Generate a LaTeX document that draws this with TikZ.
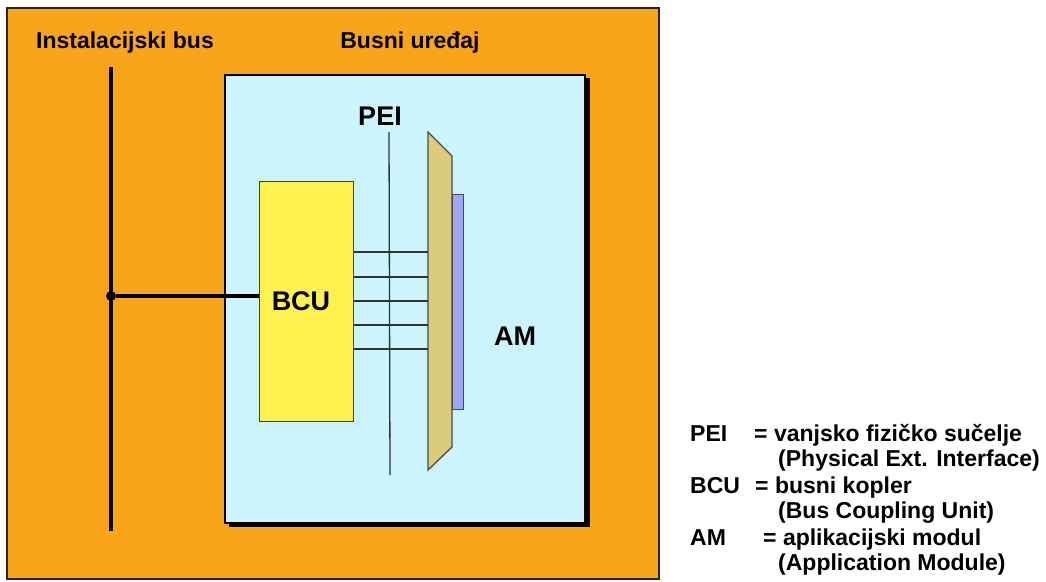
\documentclass[tikz,border=0pt]{standalone}
\usepackage{fontspec}
\setmainfont{Liberation Sans}
\usepackage{xcolor}
\usetikzlibrary{positioning}

\definecolor{busorange}{RGB}{249,165,27}
\definecolor{devblue}{RGB}{204,244,252}
\definecolor{bcuyellow}{RGB}{255,242,80}
\definecolor{peitan}{RGB}{218,204,122}
\definecolor{amviolet}{RGB}{160,166,246}

\begin{document}
\begin{tikzpicture}[x=1pt, y=-1pt,
    txt/.style={font=\bfseries\fontsize{23}{26}\selectfont, inner sep=0pt},
    bigtxt/.style={font=\bfseries\fontsize{27}{30}\selectfont, inner sep=0pt},
    wire/.style={draw=black!80, line width=1.3pt},
    busline/.style={line width=3.4pt}]
  \useasboundingbox (0,0) rectangle (1046,581);

  % frame and device box
  \draw[fill=busorange, draw=black!85, line width=1.5pt] (7,8) rectangle (659,579);
  \fill[black] (229,78) rectangle (590,527);
  \node[draw=black, fill=devblue, line width=1.5pt, minimum width=360, minimum height=448,
        inner sep=0pt, anchor=north west] (dev) at (224,74) {};

  \node[txt] (bustitle) at (125,43) {Instalacijski bus};
  \node[txt] (devtitle) at (410,43) {Busni uređaj};

  % bus coupling unit
  \node[draw=black!75, fill=bcuyellow, line width=1.3pt, minimum width=94, minimum height=240,
        inner sep=0pt, anchor=north west] (bcu) at (259,181) {};
  \node[bigtxt] (bculbl) at (301,301) {BCU};

  % installation bus with tap
  \coordinate (bustop) at (111,67);
  \coordinate (busbot) at (111,531);
  \draw[busline] (bustop) -- (busbot);
  \node[circle, fill=black, inner sep=0pt, minimum size=10] (tap) at (111,296) {};
  \draw[busline] (tap) -- (tap -| bcu.west);

  % physical external interface
  \coordinate (peitop) at (389,132);
  \coordinate (peibot) at (390,475);
  \draw[wire] (peitop) -- (peibot);
  \node[bigtxt] (peilbl) at (380,116) {PEI};

  % application module
  \coordinate (amnw) at (428,132);
  \coordinate (amne) at (452,156);
  \coordinate (amse) at (452,447);
  \coordinate (amsw) at (428,470);
  \draw[fill=peitan, draw=black!70, line width=1.3pt] (amnw) -- (amne) -- (amse) -- (amsw) -- cycle;
  \node[draw=black!70, fill=amviolet, line width=1.3pt, minimum width=11, minimum height=215,
        inner sep=0pt, anchor=north west] (amcard) at (452,194) {};
  \node[bigtxt] (amlbl) at (515,336) {AM};

  \foreach \y in {252,277,301,325,349}
    \draw[wire] (bcu.east |- 0,\y) -- (amnw |- 0,\y);

  % legend
  \node[txt, anchor=base west] (k1) at (690,441) {PEI};
  \node[txt, anchor=base west] (v1) at (754,441) {= vanjsko fizičko sučelje};
  \node[txt, anchor=base west] (e1) at (778,466) {(Physical Ext. Interface)};
  \node[txt, anchor=base west] (k2) at (690,493) {BCU};
  \node[txt, anchor=base west] (v2) at (755,493) {= busni kopler};
  \node[txt, anchor=base west] (e2) at (778,518) {(Bus Coupling Unit)};
  \node[txt, anchor=base west] (k3) at (690,545) {AM};
  \node[txt, anchor=base west] (v3) at (763,545) {= aplikacijski modul};
  \node[txt, anchor=base west] (e3) at (778,570) {(Application Module)};
\end{tikzpicture}
\end{document}
